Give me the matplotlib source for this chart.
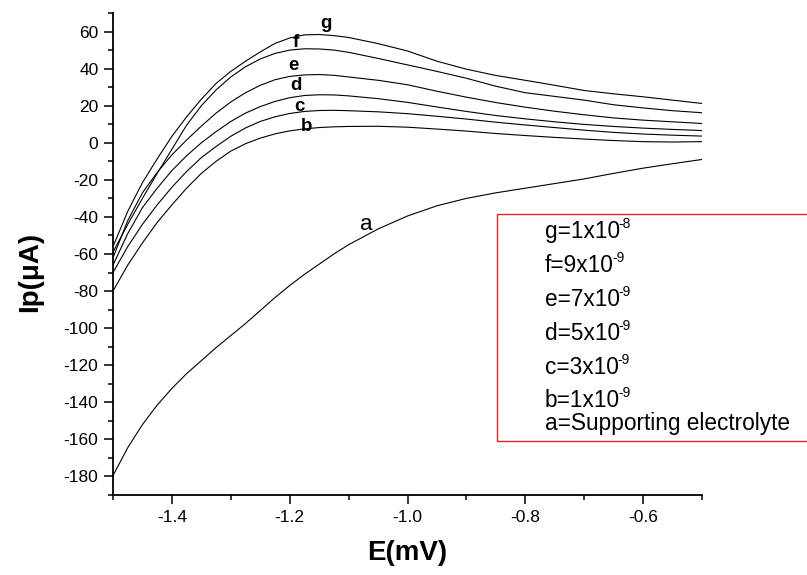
import matplotlib
matplotlib.use('Agg')
import matplotlib.pyplot as plt
from matplotlib.patches import Rectangle

plt.rcParams['font.family'] = ['Liberation Sans', 'DejaVu Sans']

# 전위 (V) - 공통 x축
E = [-1.5, -1.475, -1.45, -1.425, -1.4, -1.375, -1.35, -1.325, -1.3,
     -1.275, -1.25, -1.225, -1.2, -1.175, -1.15, -1.125, -1.1, -1.05,
     -1.0, -0.95, -0.9, -0.85, -0.8, -0.75, -0.7, -0.65, -0.6, -0.55, -0.5]

# 전류 (μA) - 곡선별
a = [-179.5, -164.5, -152, -141.5, -132.5, -124.5, -117.5, -110.5, -104,
     -97.5, -90.5, -83.5, -77, -71, -65.5, -60, -55, -46.5,
     -39.5, -34, -30, -27, -24.5, -22, -19.5, -16.5, -13.7, -11.3, -9]
b = [-80, -66, -54, -43, -33.5, -24.5, -16.5, -10, -4.5,
     -0.5, 2.5, 4.8, 6.4, 7.5, 8.2, 8.6, 8.8, 8.9,
     8.4, 7.4, 6.3, 5.0, 3.9, 2.9, 2.0, 1.2, 0.6, 0.4, 0.6]
c = [-70, -56, -44, -33.5, -24, -15.5, -8, -2, 3.5,
     8, 11.5, 14, 15.8, 16.9, 17.4, 17.5, 17.3, 16.7,
     15.7, 14.3, 12.8, 11.1, 9.6, 8.2, 6.8, 5.6, 4.7, 4.1, 3.6]
d = [-66, -49, -35, -24.5, -15, -7, 0, 6, 11.5,
     16, 19.5, 22.3, 24.3, 25.5, 25.9, 25.8, 25.3, 23.8,
     21.8, 19.3, 16.9, 14.7, 12.9, 11.3, 9.9, 8.8, 7.9, 7.2, 6.6]
e = [-62, -42, -27, -16, -6.5, 1.5, 9, 16, 22,
     27, 31, 34, 35.8, 36.6, 36.8, 36.4, 35.5, 33.7,
     31.3, 27.8, 24.6, 21.7, 19.2, 17, 15.1, 13.4, 12.2, 11.3, 10.4]
f = [-59, -44, -30, -16.5, -3.5, 9.5, 20, 28.5, 35.5,
     41, 45.2, 48.2, 50, 50.7, 50.6, 50, 48.8, 45.5,
     42, 38.5, 34.8, 30.5, 27, 25, 23, 20.5, 18.8, 17.3, 16.2]
g = [-56, -37, -21.5, -8.7, 3.5, 14, 23.5, 32, 38.5,
     44, 49, 53.6, 56.5, 58.2, 58.4, 57.8, 56.8, 53.5,
     49.5, 44, 39.7, 36.3, 33.7, 31, 28.2, 26.4, 24.8, 23, 21.2]

curves = {'a': a, 'b': b, 'c': c, 'd': d, 'e': e, 'f': f, 'g': g}

# 곡선 라벨 위치 (x, y)
label_pos = {
    'a': (-1.07, -44.2),
    'b': (-1.172, 8.8),
    'c': (-1.184, 19.6),
    'd': (-1.189, 31.0),
    'e': (-1.194, 41.8),
    'f': (-1.189, 54.2),
    'g': (-1.138, 64.5),
}

legend_lines = [
    ('g=1x10', '-8'),
    ('f=9x10', '-9'),
    ('e=7x10', '-9'),
    ('d=5x10', '-9'),
    ('c=3x10', '-9'),
    ('b=1x10', '-9'),
    ('a=Supporting electrolyte', None),
]
legend_baselines = [238, 272, 306, 340, 374, 407, 430]

W, H = 807, 575
fig = plt.figure(figsize=(W / 100, H / 100), dpi=100)
ax = fig.add_axes([113 / W, 1 - 495 / H, 589 / W, 482 / H])

for name, ys in curves.items():
    ax.plot(E, ys, '-', color='black', linewidth=0.8)

for name, (lx, ly) in label_pos.items():
    if name == 'a':
        ax.text(lx, ly, name, fontsize=16, ha='center', va='center')
    else:
        ax.text(lx, ly, name, fontsize=13.5, fontweight='bold',
                ha='center', va='center')

ax.set_xlim(-1.5, -0.5)
ax.set_ylim(-190, 70)
ax.set_xticks([-1.4, -1.2, -1.0, -0.8, -0.6])
ax.set_xticklabels(['-1.4', '-1.2', '-1.0', '-0.8', '-0.6'])
ax.set_xticks([-1.5, -1.3, -1.1, -0.9, -0.7, -0.5], minor=True)
yt = list(range(-180, 61, 20))
ax.set_yticks(yt)
ax.set_yticklabels([str(v) for v in yt])
ax.set_yticks(list(range(-190, 71, 20)), minor=True)

for s in ['top', 'right']:
    ax.spines[s].set_visible(False)
for s in ['left', 'bottom']:
    ax.spines[s].set_linewidth(1.3)
ax.tick_params(which='major', direction='out', length=6.5, width=1.1,
               labelsize=12.5, pad=4)
ax.tick_params(which='minor', direction='out', length=3.3, width=1.1)

fig.text(407 / W, 1 - 553 / H, 'E(mV)', fontsize=20, fontweight='bold',
         ha='center', va='center')
fig.text(30 / W, 1 - 272 / H, 'Ip(μA)', fontsize=20, fontweight='bold',
         ha='center', va='center', rotation=90)

# 범례 박스 (빨간 테두리, 오른쪽은 그림 밖으로 잘림)
box = Rectangle((497 / W, 1 - 441 / H), 330 / W, 227 / H,
                transform=fig.transFigure, fill=False,
                edgecolor='#e8202a', linewidth=1.0, clip_on=False)
fig.patches.append(box)

renderer = fig.canvas.get_renderer()
for (txt, sup), yb in zip(legend_lines, legend_baselines):
    t = fig.text(545 / W, 1 - yb / H, txt, fontsize=16.3,
                 ha='left', va='baseline')
    if sup is not None:
        bb = t.get_window_extent(renderer)
        fig.text((bb.x1 - 1.5) / W, 1 - (yb - 10) / H, sup, fontsize=10,
                 ha='left', va='baseline')

fig.savefig('out.png', dpi=100)
